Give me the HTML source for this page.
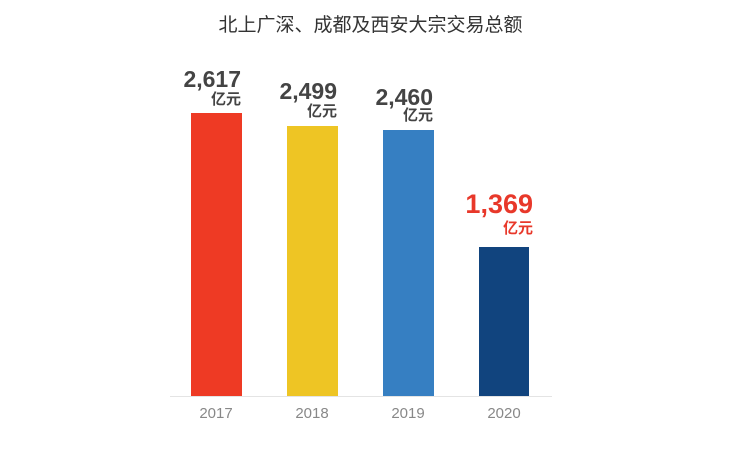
<!DOCTYPE html>
<html><head><meta charset="utf-8"><style>
body{margin:0;width:741px;height:470px;background:#fff;position:relative;overflow:hidden;font-family:"Liberation Sans","Noto Sans CJK SC",sans-serif}
.t{position:absolute;white-space:nowrap}
.bar{position:absolute}
.num{position:absolute;text-align:right;font-weight:bold;color:#444;white-space:nowrap;line-height:1}
.yr{position:absolute;width:60px;text-align:center;color:#888;font-size:15px}
</style></head><body>
<div class="t" style="left:0;width:741px;text-align:center;top:10px;font-size:19px;color:#333">北上广深、成都及西安大宗交易总额</div>
<div class="bar" style="left:191px;width:51px;top:113px;height:283px;background:#ee3a24"></div>
<div class="bar" style="left:287px;width:51px;top:126px;height:270px;background:#eec524"></div>
<div class="bar" style="left:383px;width:51px;top:130px;height:266px;background:#367fc2"></div>
<div class="bar" style="left:479px;width:50px;top:247px;height:149px;background:#11447e"></div>
<div style="position:absolute;left:170px;width:382px;top:396px;height:1px;background:#e4e4e4"></div>

<div class="num" style="right:500px;top:68px;font-size:23px">2,617</div>
<div class="num" style="right:500px;top:92px;font-size:15px">亿元</div>
<div class="num" style="right:404px;top:80px;font-size:23px">2,499</div>
<div class="num" style="right:404px;top:104px;font-size:15px">亿元</div>
<div class="num" style="right:308px;top:86px;font-size:23px">2,460</div>
<div class="num" style="right:308px;top:108px;font-size:15px">亿元</div>
<div class="num" style="right:208px;top:191px;font-size:27px;color:#e8382a">1,369</div>
<div class="num" style="right:208px;top:221px;font-size:15px;color:#e8382a">亿元</div>

<div class="yr" style="left:186px;top:405px">2017</div>
<div class="yr" style="left:282px;top:405px">2018</div>
<div class="yr" style="left:378px;top:405px">2019</div>
<div class="yr" style="left:474px;top:405px">2020</div>
</body></html>
